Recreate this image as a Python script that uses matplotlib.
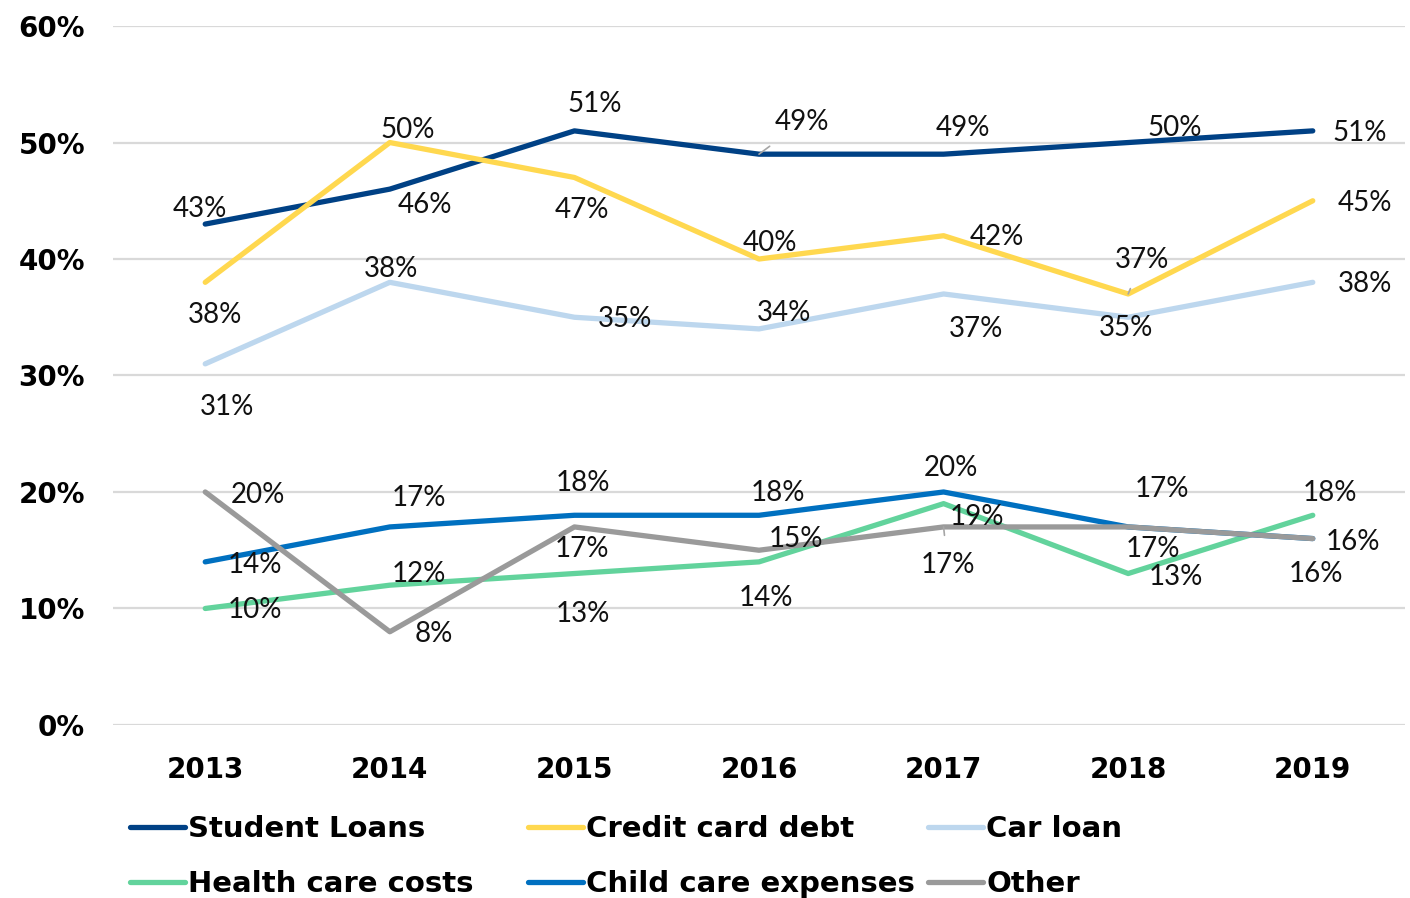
import matplotlib.pyplot as plt
from matplotlib import font_manager

years = ['2013', '2014', '2015', '2016', '2017', '2018', '2019']

student_loans = [43, 46, 51, 49, 49, 50, 51]
credit_card = [38, 50, 47, 40, 42, 37, 45]
car_loan = [31, 38, 35, 34, 37, 35, 38]
health_care = [10, 12, 13, 14, 19, 13, 18]
child_care = [14, 17, 18, 18, 20, 17, 16]
other = [20, 8, 17, 15, 17, 17, 16]

names = ['Student Loans', 'Credit card debt', 'Car loan',
         'Health care costs', 'Child care expenses', 'Other']
colors = ['#004185', '#ffd84f', '#bdd7ee', '#62d39c', '#0070c0', '#9a9a9a']

# label offsets in pixels (dx, dy)
offsets = [
    [(-5, 17), (35, -14), (20, 29), (43, 34), (19, 28), (47, 17), (47, 0)],
    [(10, -31), (18, 15), (8, -31), (11, 18), (53, 1), (14, 36), (52, 0)],
    [(22, -41), (1, 15), (51, 0), (25, 18), (32, -33), (-2, -9), (52, 0)],
    [(50, 0), (29, 13), (8, -38), (7, -34), (33, -11), (48, -1), (17, 24)],
    [(50, -1), (29, 31), (9, 34), (19, 24), (7, 26), (34, 40), (3, -33)],
    [(53, -1), (44, 0), (8, -20), (37, 13), (4, -36), (25, -20), (40, -1)],
]
leaders = {(0, 3), (1, 5), (5, 4)}

available = {f.name for f in font_manager.fontManager.ttflist}
label_font = 'Lato' if 'Lato' in available else 'DejaVu Sans'
bold_font = 'DejaVu Sans'

fig = plt.figure(figsize=(14.1, 8.98), dpi=100)
ax = fig.add_axes([0.0801, 0.1927, 0.9164, 0.7783])

series = [student_loans, credit_card, car_loan, health_care, child_care, other]
x = list(range(len(years)))
handles = []
for i, (vals, name, col) in enumerate(zip(series, names, colors)):
    y = [v / 100 for v in vals]
    ln, = ax.plot(x, y, color=col, lw=3.8, label=name, solid_capstyle='round', zorder=3)
    handles.append(ln)
    for j, v in enumerate(vals):
        dx, dy = offsets[i][j]
        arrow = None
        if (i, j) in leaders:
            arrow = dict(arrowstyle='-', color='#a6a6a6', lw=1.2, shrinkA=10, shrinkB=0)
        ax.annotate(f'{v}%', (j, v / 100), xytext=(dx, dy - 2), textcoords='offset pixels',
                    ha='center', va='center', fontsize=20, family=label_font,
                    color='#111111', arrowprops=arrow, zorder=4)

ax.set_xlim(-0.5, 6.5)
ax.set_ylim(0, 0.6)
ax.set_yticks([0, 0.1, 0.2, 0.3, 0.4, 0.5, 0.6])
ax.set_yticklabels(['0%', '10%', '20%', '30%', '40%', '50%', '60%'])
ax.set_xticks(x)
ax.set_xticklabels(years)
ax.yaxis.grid(True, color='#d9d9d9', lw=1.6)
ax.set_axisbelow(True)
for s in ax.spines.values():
    s.set_visible(False)
ax.tick_params(axis='x', length=0, labelsize=20, pad=22)
ax.tick_params(axis='y', length=0, labelsize=20, pad=20)
for t in ax.get_xticklabels() + ax.get_yticklabels():
    t.set_fontweight('bold')
    t.set_family(bold_font)

# legend laid out as three fixed-width columns, two entries each
col_left = [130, 528, 928]
for k in range(3):
    pair = [handles[k], handles[k + 3]]
    fig.legend(pair, [h.get_label() for h in pair], loc='upper left',
               bbox_to_anchor=(col_left[k] / 1410, 1 - 815 / 898), frameon=False,
               borderaxespad=0, borderpad=0, handlelength=1.9, handletextpad=0.1,
               labelspacing=0.92, prop={'family': bold_font, 'weight': 'bold', 'size': 21})

fig.savefig('out.png', dpi=100)
